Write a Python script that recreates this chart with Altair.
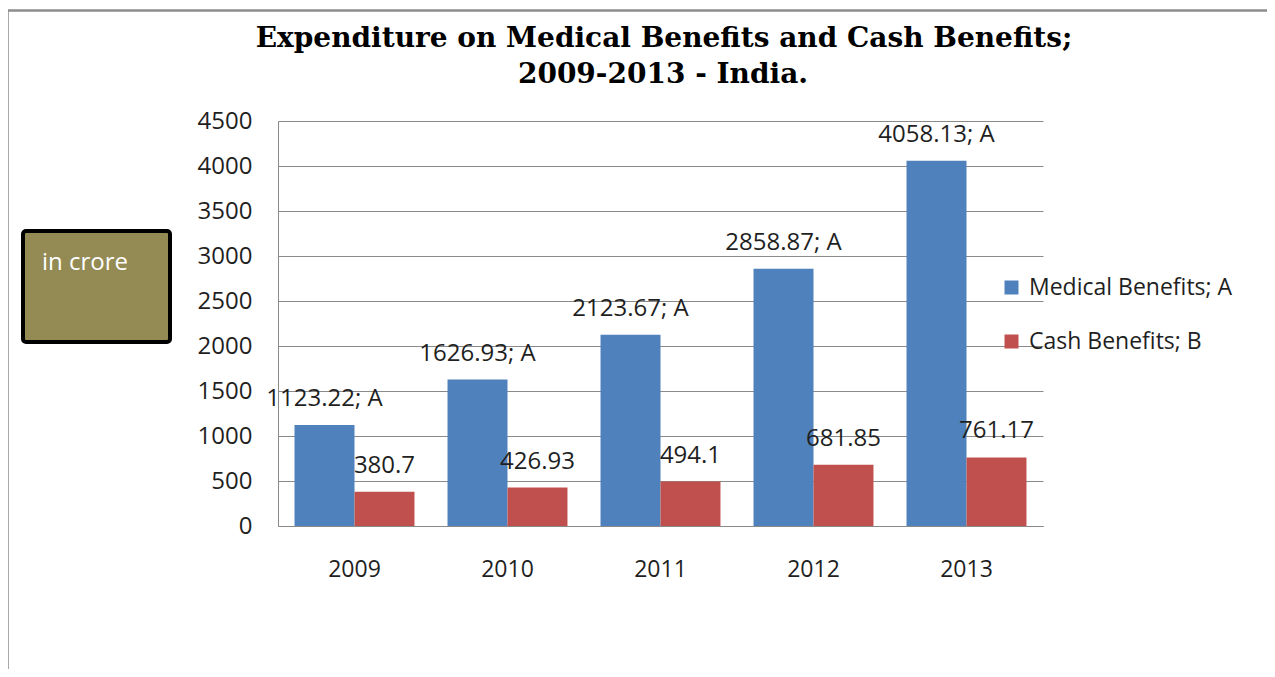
import altair as alt
import pandas as pd

years = ["2009", "2010", "2011", "2012", "2013"]
medical = [1123.22, 1626.93, 2123.67, 2858.87, 4058.13]
cash = [380.7, 426.93, 494.1, 681.85, 761.17]
medical_labels = ["1123.22; A", "1626.93; A", "2123.67; A", "2858.87; A", "4058.13; A"]
cash_labels = ["380.7", "426.93", "494.1", "681.85", "761.17"]
series_names = ["Medical Benefits;  A", "Cash Benefits; B"]
series_colors = ["#4F81BD", "#C0504D"]
y_ticks = [0, 500, 1000, 1500, 2000, 2500, 3000, 3500, 4000, 4500]
title_lines = ["Expenditure on Medical Benefits and Cash Benefits;", "2009-2013 - India."]
unit_note = "in crore"

rows = []
for i, yr in enumerate(years):
    rows.append({"year": yr, "series": series_names[0], "value": medical[i], "label": medical_labels[i]})
    rows.append({"year": yr, "series": series_names[1], "value": cash[i], "label": cash_labels[i]})
df = pd.DataFrame(rows)

FONT = "Open Sans"
GRID = "#8a8a8a"

x_enc = alt.X("year:N", sort=years, title=None,
              scale=alt.Scale(paddingInner=0.216, paddingOuter=0.108),
              axis=alt.Axis(labelAngle=0, ticks=False, domainColor=GRID, labelPadding=32,
                            labelFontSize=23, labelFont=FONT, labelColor="#1f1f1f"))
xo_enc = alt.XOffset("series:N", sort=series_names,
                     scale=alt.Scale(paddingInner=0, paddingOuter=0))
y_enc = alt.Y("value:Q", title=None, scale=alt.Scale(domain=[0, 4500], nice=False),
              axis=alt.Axis(values=y_ticks, format="d", ticks=False, domainColor=GRID,
                            gridColor=GRID, labelPadding=26, labelFontSize=24, labelFont=FONT,
                            labelColor="#1f1f1f"))

bars = alt.Chart(df).mark_bar().encode(
    x=x_enc, xOffset=xo_enc, y=y_enc,
    color=alt.Color("series:N", sort=series_names,
                    scale=alt.Scale(domain=series_names, range=series_colors),
                    legend=alt.Legend(orient="none", legendX=722, legendY=155, title=None,
                                      symbolType="square", symbolSize=196, symbolStrokeWidth=0,
                                      labelFontSize=23, labelFont=FONT, labelColor="#1f1f1f",
                                      labelOffset=6, labelLimit=0, rowPadding=30, padding=0)),
)

labels = alt.Chart(df).mark_text(fontSize=24, font=FONT, color="#1f1f1f",
                                 baseline="alphabetic", dy=-19).encode(
    x=alt.X("year:N", sort=years), xOffset=xo_enc, y="value:Q", text="label:N"
)

one = pd.DataFrame({"k": [0]})

frame_top = alt.Chart(one).mark_rule(color="#8c8c8c", strokeWidth=2.5).encode(
    x=alt.value(-271), x2=alt.value(1000), y=alt.value(-110.5))
frame_left = alt.Chart(one).mark_rule(color="#8c8c8c", strokeWidth=2.5).encode(
    x=alt.value(-270.5), y=alt.value(-111), y2=alt.value(560))

title1 = alt.Chart(one).mark_text(font="DejaVu Serif", fontWeight="bold", fontSize=28,
                                  color="#000000", baseline="alphabetic", align="center").encode(
    x=alt.value(386), y=alt.value(-74), text=alt.value(title_lines[0]))
title2 = alt.Chart(one).mark_text(font="DejaVu Serif", fontWeight="bold", fontSize=28,
                                  color="#000000", baseline="alphabetic", align="center").encode(
    x=alt.value(385), y=alt.value(-38), text=alt.value(title_lines[1]))

box = alt.Chart(one).mark_rect(fill="#948A54", stroke="#000000", strokeWidth=4,
                               cornerRadius=3).encode(
    x=alt.value(-255), x2=alt.value(-108), y=alt.value(110), y2=alt.value(221))
box_text = alt.Chart(one).mark_text(font=FONT, fontSize=24, color="#ffffff",
                                    align="left", baseline="alphabetic").encode(
    x=alt.value(-236), y=alt.value(149), text=alt.value(unit_note))

chart = alt.layer(bars, labels, frame_top, frame_left, title1, title2, box, box_text).properties(
    width=765, height=405,
    padding={"left": 270, "top": 113, "right": 224, "bottom": 143},
    autosize=alt.AutoSizeParams(type="none"),
).configure_view(stroke=None).configure_axis(gridWidth=1, domainWidth=1)

chart.save("out.html", embed_options={"renderer": "svg", "actions": False})
